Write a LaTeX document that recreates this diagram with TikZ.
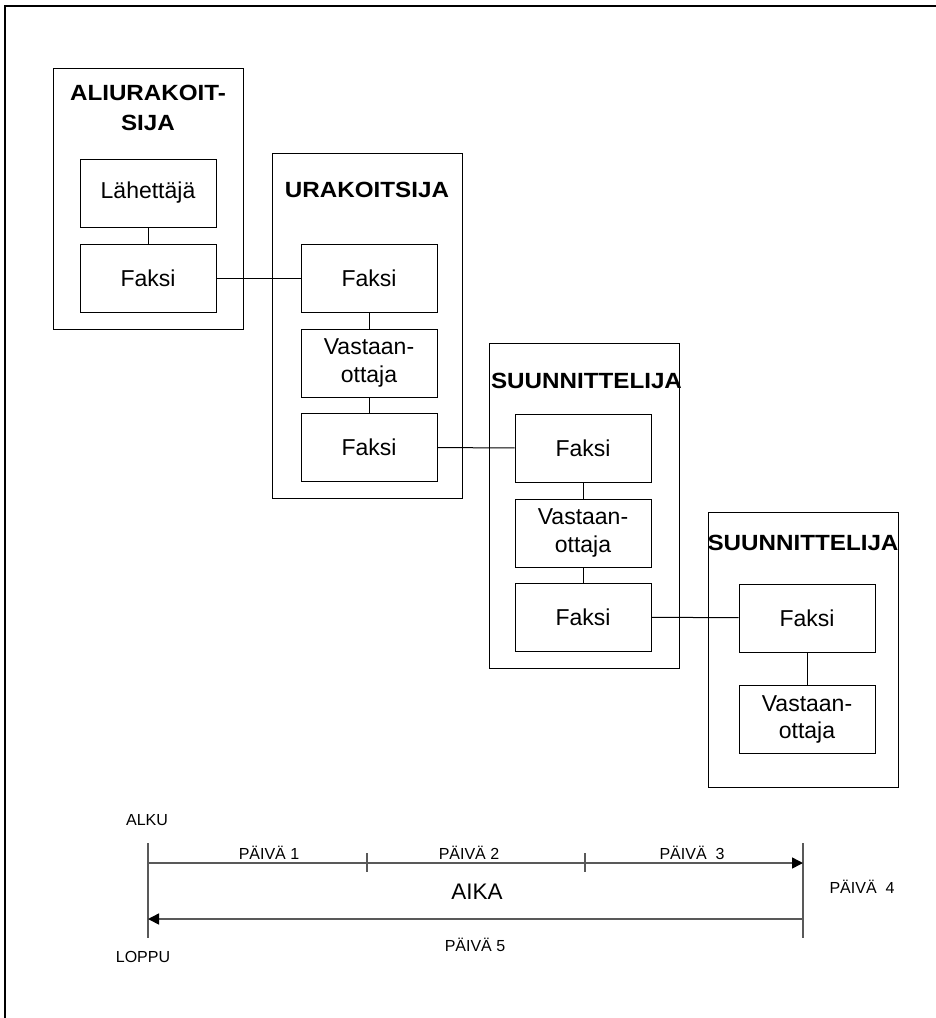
\documentclass[tikz,border=0pt]{standalone}
\usepackage{fontspec}
\setmainfont{Liberation Sans}
\newfontfamily\headfont[FakeStretch=1.1]{Liberation Sans}
\usetikzlibrary{arrows.meta}

\begin{document}
\begin{tikzpicture}[x=1pt,y=-1pt,
  party/.style={draw, line width=1pt, inner sep=0pt, minimum width=190pt},
  unit/.style={draw, line width=1pt, minimum width=136pt, minimum height=68pt,
    inner sep=0pt, align=center, font=\fontsize{23}{27.5}\selectfont},
  title/.style={font=\headfont\fontsize{22}{30}\selectfont\bfseries, inner sep=0pt, align=center},
  link/.style={line width=1pt},
  axis/.style={draw=black!65, line width=1.5pt},
  head/.style={-{Triangle[length=11pt,width=11pt,color=black]}},
  lbl/.style={font=\fontsize{16}{19}\selectfont, inner sep=0pt, anchor=base},
  ]
\useasboundingbox (0,0) rectangle (936,1018);

% page frame (top and left edges)
\coordinate (fr0) at (5,1018);
\coordinate (fr1) at (5,6);
\coordinate (fr2) at (936,6);
\draw[line width=2pt] (fr0) -- (fr1) -- (fr2);

% organisations
\node[party, minimum height=261pt] (p1) at (148,198.5) {};
\node[party, minimum height=345pt] (p2) at (367,325.5) {};
\node[party, minimum height=325pt] (p3) at (584,505.5) {};
\node[party, minimum height=275pt] (p4) at (803,649.5) {};

\node[title, anchor=north] (t1) at (148,85) {ALIURAKOIT-\\SIJA};
\node[title, anchor=base] (t2) at (367,197) {URAKOITSIJA};
\node[title, anchor=base] (t3) at (586.5,388) {SUUNNITTELIJA};
\node[title, anchor=base] (t4) at (803,550) {SUUNNITTELIJA};

% subcontractor
\node[unit] (s1) at (148,193) {Lähettäjä};
\node[unit] (f1) at (148,278) {Faksi};
% contractor
\node[unit] (f2) at (369,278) {Faksi};
\node[unit] (r2) at (369,363) {Vastaan-\\ottaja};
\node[unit] (g2) at (369,447.5) {Faksi};
% first designer
\node[unit] (f3) at (583,448) {Faksi};
\node[unit] (r3) at (583,533) {Vastaan-\\ottaja};
\node[unit] (g3) at (583,617) {Faksi};
% second designer
\node[unit] (f4) at (807,618) {Faksi};
\node[unit] (r4) at (807,719.5) {Vastaan-\\ottaja};

\draw[link] (s1) -- (f1);
\draw[link] (f1) -- (f2);
\draw[link] (f2) -- (r2);
\draw[link] (r2) -- (g2);
\draw[link] (g2) -- (f3);
\draw[link] (f3) -- (r3);
\draw[link] (r3) -- (g3);
\draw[link] (g3) -- (f4);
\draw[link] (f4) -- (r4);

% time axis
\coordinate (l0) at (148,843);
\coordinate (l1) at (148,938);
\coordinate (r0) at (803,843);
\coordinate (r1) at (803,938);
\coordinate (a0) at (148,863);
\coordinate (a1) at (803,863);
\coordinate (b1) at (803,919);
\coordinate (b0) at (148,919);
\coordinate (k1a) at (367,853);
\coordinate (k1b) at (367,872);
\coordinate (k2a) at (585,853);
\coordinate (k2b) at (585,872);

\draw[axis] (l0) -- (l1);
\draw[axis] (r0) -- (r1);
\draw[axis] (k1a) -- (k1b);
\draw[axis] (k2a) -- (k2b);
\draw[axis, head] (a0) -- (a1);
\draw[axis, head] (b1) -- (b0);

\node[lbl] (alku) at (147,825) {ALKU};
\node[lbl] (loppu) at (143,962) {LOPPU};
\node[lbl] (d1) at (269,859) {PÄIVÄ 1};
\node[lbl] (d2) at (469,859) {PÄIVÄ 2};
\node[lbl] (d3) at (692,859) {PÄIVÄ~~3};
\node[lbl] (d4) at (862,893) {PÄIVÄ~~4};
\node[lbl] (d5) at (475,951) {PÄIVÄ 5};
\node[lbl, font=\fontsize{22.5}{27}\selectfont] (aika) at (477,899) {AIKA};
\end{tikzpicture}
\end{document}
